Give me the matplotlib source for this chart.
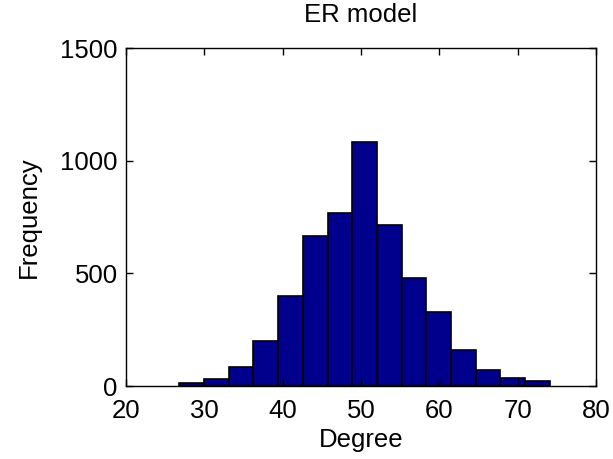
import numpy as np
import matplotlib
matplotlib.use('Agg')
import matplotlib.pyplot as plt

plt.rcParams['font.family'] = ['Liberation Sans', 'DejaVu Sans']

# Histogram bin edges and counts
bin_edges = np.linspace(26.8, 74.1, 16)
counts = [12, 30, 86, 200, 401, 666, 769, 1084, 714, 481, 328, 158, 71, 36, 22]

fig = plt.figure(figsize=(6.13, 4.59), dpi=100)
ax = fig.add_axes([0.2055, 0.159, 0.767, 0.736])

ax.hist(bin_edges[:-1], bins=bin_edges, weights=counts,
        color='#00008C', edgecolor='black', linewidth=1.2)

ax.set_xlim(20, 80)
ax.set_ylim(0, 1500)
ax.set_xticks([20, 30, 40, 50, 60, 70, 80])
ax.set_yticks([0, 500, 1000, 1500])
ax.tick_params(direction='in', top=True, right=True, length=5,
               width=1, labelsize=18.5)
ax.tick_params(axis='x', pad=9)
ax.tick_params(axis='y', pad=6)
for s in ax.spines.values():
    s.set_linewidth(1)

ax.set_title('ER model', fontsize=18.5, pad=19)
ax.set_xlabel('Degree', fontsize=18.5, labelpad=4)
ax.set_ylabel('Frequency', fontsize=18.5, labelpad=14)

fig.savefig('out.png', dpi=100)
